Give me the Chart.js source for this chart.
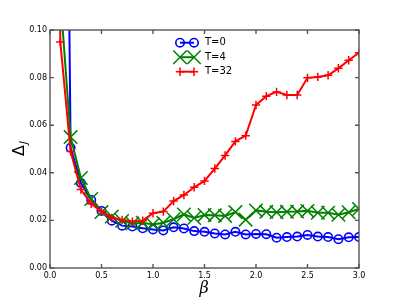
<!DOCTYPE html>
<html>
<head>
<meta charset="utf-8">
<script src="https://cdn.jsdelivr.net/npm/chart.js@4.4.0/dist/chart.umd.min.js"></script>
<style>
html,body{margin:0;padding:0;background:#fff;}
canvas{display:block;}
</style>
</head>
<body>
<canvas id="c" width="399" height="299"></canvas>
<script>
const betas = [0.0,0.1,0.2,0.3,0.4,0.5,0.6,0.7,0.8,0.9,1.0,1.1,1.2,1.3,1.4,1.5,1.6,1.7,1.8,1.9,2.0,2.1,2.2,2.3,2.4,2.5,2.6,2.7,2.8,2.9,3.0];
const seriesNames = ["T=0","T=4","T=32"];
const t0 = [null,0.48,0.0505,0.0357,0.0286,0.0240,0.0199,0.0178,0.0174,0.0167,0.0162,0.0158,0.0171,0.0166,0.0155,0.0152,0.0145,0.0141,0.0152,0.0141,0.0143,0.0142,0.0127,0.0130,0.0132,0.0139,0.0132,0.0130,0.0121,0.0129,0.0130];
const t4 = [null,0.114,0.0550,0.0378,0.0290,0.0235,0.0216,0.0198,0.0187,0.0190,0.0183,0.0190,0.0205,0.0225,0.0210,0.0223,0.0222,0.0219,0.0235,0.0203,0.0242,0.0236,0.0234,0.0236,0.0237,0.0240,0.0232,0.0232,0.0224,0.0234,0.0248];
const t32 = [0.5,0.0950,0.0490,0.0330,0.0270,0.0237,0.0210,0.0202,0.0195,0.0199,0.0230,0.0237,0.0281,0.0307,0.0339,0.0366,0.0418,0.0473,0.0532,0.0556,0.0685,0.0722,0.0740,0.0727,0.0727,0.0799,0.0803,0.0810,0.0839,0.0873,0.0904];
const xTicksStep = 0.5, yTicksStep = 0.02;

function pts(vals){ return betas.map((b,i)=>({x:b, y:vals[i]})); }

const styles = [
  {color:'#0000ff', ps:'circle', r:4.2, bw:1.6},
  {color:'#008000', ps:'crossRot', r:9.5, bw:1.5},
  {color:'#ff0000', ps:'cross', r:4.2, bw:1.5}
];
const allVals = [t0,t4,t32];

const datasets = allVals.map((v,i)=>({
  label: seriesNames[i],
  data: pts(v),
  borderColor: styles[i].color,
  backgroundColor: styles[i].color,
  borderWidth: 2,
  pointStyle: styles[i].ps,
  pointRadius: styles[i].r,
  pointBorderWidth: styles[i].bw,
  pointBorderColor: styles[i].color,
  pointBackgroundColor: 'rgba(0,0,0,0)',
  tension: 0,
  spanGaps: false,
  order: 3 - i
}));

function marker(ctx, style, x, y){
  ctx.save();
  ctx.strokeStyle = style.color;
  ctx.lineWidth = style.bw;
  ctx.beginPath();
  const r = style.r;
  if(style.ps==='circle'){
    ctx.arc(x,y,r,0,Math.PI*2);
  } else if(style.ps==='crossRot'){
    const o = r*Math.SQRT1_2;
    ctx.moveTo(x-o,y-o); ctx.lineTo(x+o,y+o);
    ctx.moveTo(x-o,y+o); ctx.lineTo(x+o,y-o);
  } else {
    ctx.moveTo(x-r,y); ctx.lineTo(x+r,y);
    ctx.moveTo(x,y-r); ctx.lineTo(x,y+r);
  }
  ctx.stroke();
  ctx.restore();
}

const decor = {
  id:'decor',
  afterDraw(chart){
    const ctx = chart.ctx, a = chart.chartArea;
    const xs = chart.scales.x, ys = chart.scales.y;
    ctx.save();
    ctx.strokeStyle = '#555';
    ctx.lineWidth = 1.4;
    // inward ticks
    ctx.beginPath();
    xs.ticks.forEach(t=>{
      const px = xs.getPixelForValue(t.value);
      ctx.moveTo(px,a.bottom); ctx.lineTo(px,a.bottom-4);
      ctx.moveTo(px,a.top); ctx.lineTo(px,a.top+4);
    });
    ys.ticks.forEach(t=>{
      const py = ys.getPixelForValue(t.value);
      ctx.moveTo(a.left,py); ctx.lineTo(a.left+4,py);
      ctx.moveTo(a.right,py); ctx.lineTo(a.right-4,py);
    });
    ctx.stroke();
    ctx.strokeRect(a.left, a.top, a.right-a.left, a.bottom-a.top);
    ctx.restore();

    // legend
    const lx1 = 180, lx2 = 194, ly0 = 42.7, dy = 14.5;
    datasets.forEach((d,i)=>{
      const y = ly0 + i*dy;
      const st = styles[i];
      ctx.save();
      ctx.strokeStyle = st.color; ctx.lineWidth = 2;
      ctx.beginPath(); ctx.moveTo(lx1,y); ctx.lineTo(lx2,y); ctx.stroke();
      ctx.restore();
      marker(ctx, st, lx1, y);
      marker(ctx, st, lx2, y);
      ctx.save();
      ctx.fillStyle = '#000';
      ctx.font = '10px "DejaVu Sans"';
      ctx.textBaseline = 'middle';
      ctx.textAlign = 'left';
      ctx.fillText(d.label, 205, y);
      ctx.restore();
    });

    // x label
    ctx.save();
    ctx.fillStyle = '#000';
    ctx.font = 'italic 16px "DejaVu Serif"';
    ctx.textAlign = 'center';
    ctx.textBaseline = 'middle';
    ctx.fillText('β', 204, 289);
    ctx.restore();

    // y label
    ctx.save();
    ctx.translate(19, 149);
    ctx.rotate(-Math.PI/2);
    ctx.fillStyle = '#000';
    ctx.font = '16px "DejaVu Sans"';
    const wD = ctx.measureText('Δ').width;
    ctx.font = 'italic 10px "DejaVu Sans"';
    const wJ = ctx.measureText('J').width;
    const start = -(wD + wJ)/2;
    ctx.textBaseline = 'alphabetic';
    ctx.font = '16px "DejaVu Sans"';
    ctx.fillText('Δ', start, 5);
    ctx.font = 'italic 10px "DejaVu Sans"';
    ctx.fillText('J', start + wD + 1, 8);
    ctx.restore();
  }
};

new Chart(document.getElementById('c'), {
  type: 'line',
  data: { datasets },
  options: {
    responsive: false,
    animation: false,
    layout: { padding: { top: 30, right: 40, left: 0, bottom: 0 } },
    plugins: { legend: { display: false }, tooltip: { enabled: false } },
    scales: {
      x: {
        type: 'linear', min: 0, max: 3,
        ticks: { stepSize: xTicksStep, callback: v => Number(v).toFixed(1), font: { family: 'DejaVu Sans', size: 8 }, color: '#000', padding: 3, maxRotation: 0 },
        grid: { display: false, drawTicks: false },
        border: { display: false },
        afterFit: s => { s.height = 31; }
      },
      y: {
        type: 'linear', min: 0, max: 0.1,
        ticks: { stepSize: yTicksStep, callback: v => Number(v).toFixed(2), font: { family: 'DejaVu Sans', size: 8 }, color: '#000', padding: 3 },
        grid: { display: false, drawTicks: false },
        border: { display: false },
        afterFit: s => { s.height = undefined; s.width = 50; }
      }
    }
  },
  plugins: [decor]
});
</script>
</body>
</html>
